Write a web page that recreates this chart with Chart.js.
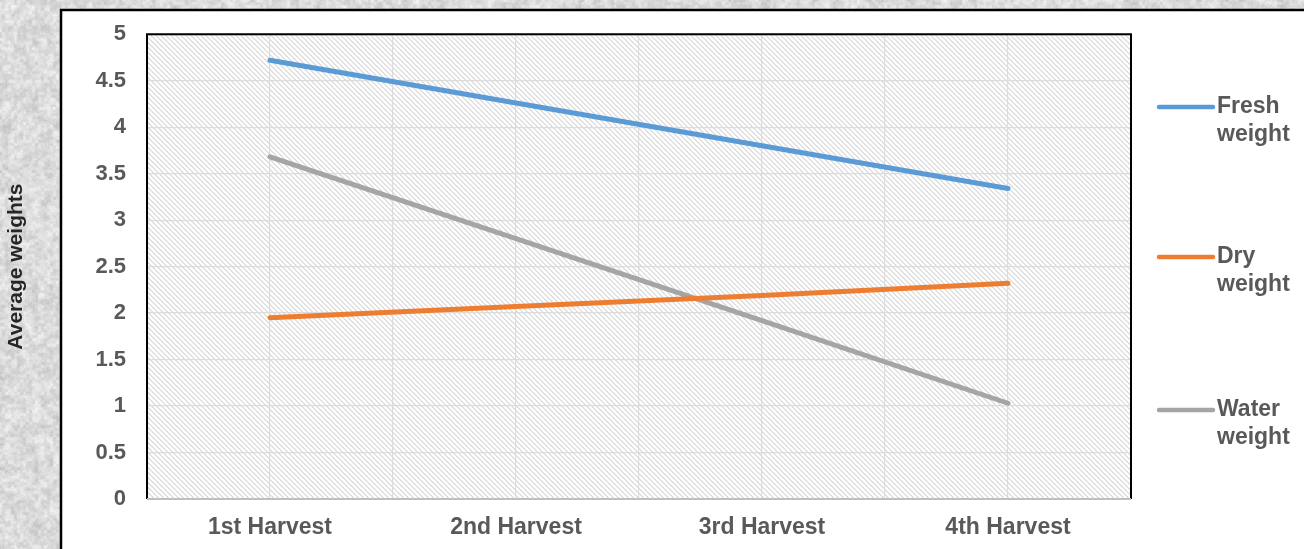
<!DOCTYPE html>
<html>
<head>
<meta charset="utf-8">
<script src="https://cdn.jsdelivr.net/npm/chart.js@4/dist/chart.umd.min.js"></script>
<style>
  html, body { margin: 0; padding: 0; background: #dcdcdc; }
  #wrap { position: relative; width: 1304px; height: 549px; }
</style>
</head>
<body>
<div id="wrap"><canvas id="chart" width="1304" height="549"></canvas></div>
<script>
// Harvest categories and average weights per harvest
const categories = ['1st Harvest', '2nd Harvest', '3rd Harvest', '4th Harvest'];
const freshWeight = [4.72, 4.26, 3.80, 3.34];
const dryWeight = [1.95, 2.07, 2.19, 2.32];
const waterWeight = [3.68, 2.80, 1.92, 1.03];
const seriesNames = [['Fresh', 'weight'], ['Dry', 'weight'], ['Water', 'weight']];
const yTicks = [0, 0.5, 1, 1.5, 2, 2.5, 3, 3.5, 4, 4.5, 5];

const FONT = "'Liberation Sans', Arial, sans-serif";

// Granite-like backdrop behind the chart frame
function makeStoneTexture(w, h) {
  const c = document.createElement('canvas');
  c.width = w; c.height = h;
  const g = c.getContext('2d');
  const img = g.createImageData(w, h);
  const hash = (x, y, s) => {
    let n = (x * 374761393 + y * 668265263 + s * 2147483647) | 0;
    n = (n ^ (n >>> 13)) * 1274126177 | 0;
    n = n ^ (n >>> 16);
    return ((n >>> 0) % 1000) / 1000;
  };
  const smooth = (x, y, cell, s) => {
    const gx = Math.floor(x / cell), gy = Math.floor(y / cell);
    const fx = (x % cell) / cell, fy = (y % cell) / cell;
    const a = hash(gx, gy, s), b = hash(gx + 1, gy, s);
    const cc = hash(gx, gy + 1, s), d = hash(gx + 1, gy + 1, s);
    const ux = fx * fx * (3 - 2 * fx), uy = fy * fy * (3 - 2 * fy);
    return a + (b - a) * ux + (cc - a) * uy + (a - b - cc + d) * ux * uy;
  };
  for (let y = 0; y < h; y++) {
    for (let x = 0; x < w; x++) {
      const v = 0.35 * smooth(x, y, 7, 1) + 0.45 * smooth(x, y, 3, 2) + 0.2 * hash(x, y, 3);
      const val = Math.max(196, Math.min(248, 188 + v * 62));
      const i = (y * w + x) * 4;
      img.data[i] = val; img.data[i + 1] = val; img.data[i + 2] = val; img.data[i + 3] = 255;
    }
  }
  g.putImageData(img, 0, 0);
  return c;
}

// Diagonal hatch fill for the plot area
function makeHatch(ctx) {
  const t = document.createElement('canvas');
  t.width = 5; t.height = 5;
  const g = t.getContext('2d');
  g.fillStyle = '#ffffff';
  g.fillRect(0, 0, 5, 5);
  g.fillStyle = '#e0e0e0';
  for (let i = 0; i < 5; i++) {
    g.fillRect(i, i, 1, 1);
    g.fillRect((i + 1) % 5, i, 1, 1);
  }
  return ctx.createPattern(t, 'repeat');
}

const stone = makeStoneTexture(1304, 549);

const framePlugin = {
  id: 'frame',
  beforeDraw(chart) {
    const ctx = chart.ctx;
    const a = chart.chartArea;
    ctx.save();
    ctx.drawImage(stone, 0, 0);
    ctx.fillStyle = '#ffffff';
    ctx.fillRect(61, 10, chart.width, chart.height);
    ctx.strokeStyle = '#000000';
    ctx.lineWidth = 2.5;
    ctx.strokeRect(61, 10, chart.width + 10, chart.height + 10);
    ctx.fillStyle = makeHatch(ctx);
    ctx.fillRect(a.left, a.top, a.right - a.left, a.bottom - a.top);
    ctx.restore();
  },
  beforeDatasetsDraw(chart) {
    const ctx = chart.ctx;
    const a = chart.chartArea;
    ctx.save();
    ctx.strokeStyle = '#000000';
    ctx.lineWidth = 2;
    ctx.beginPath();
    ctx.moveTo(a.left, a.bottom);
    ctx.lineTo(a.left, a.top);
    ctx.lineTo(a.right, a.top);
    ctx.lineTo(a.right, a.bottom);
    ctx.stroke();
    ctx.strokeStyle = '#bfbfbf';
    ctx.beginPath();
    ctx.moveTo(a.left, a.bottom);
    ctx.lineTo(a.right, a.bottom);
    ctx.stroke();
    ctx.restore();
  }
};

// Legend drawn to the right of the plot, one entry per series
const sideLegend = {
  id: 'sideLegend',
  afterDraw(chart) {
    const ctx = chart.ctx;
    const a = chart.chartArea;
    const rowsY = [107, 257, 410];
    ctx.save();
    chart.data.datasets.forEach((ds, i) => {
      const y = rowsY[i];
      ctx.strokeStyle = ds.borderColor;
      ctx.lineWidth = 4.5;
      ctx.lineCap = 'round';
      ctx.beginPath();
      ctx.moveTo(a.right + 28, y);
      ctx.lineTo(a.right + 82, y);
      ctx.stroke();
      ctx.fillStyle = '#595959';
      ctx.font = 'bold 23px ' + FONT;
      ctx.textBaseline = 'middle';
      ctx.textAlign = 'left';
      ds.label.forEach((line, k) => ctx.fillText(line, a.right + 86, y + k * 28));
    });
    ctx.restore();
  }
};

const toPoints = arr => arr.map((v, i) => ({ x: i, y: v }));

new Chart(document.getElementById('chart'), {
  type: 'line',
  data: {
    datasets: [
      { label: seriesNames[0], data: toPoints(freshWeight), borderColor: '#5b9bd5' },
      { label: seriesNames[1], data: toPoints(dryWeight), borderColor: '#ed7d31' },
      { label: seriesNames[2], data: toPoints(waterWeight), borderColor: '#a5a5a5' }
    ]
  },
  options: {
    responsive: false,
    animation: false,
    layout: { padding: { top: 33, right: 173, left: 0, bottom: 0 } },
    elements: {
      line: { borderWidth: 5, borderCapStyle: 'round', tension: 0 },
      point: { radius: 0, hoverRadius: 0 }
    },
    plugins: { legend: { display: false }, tooltip: { enabled: false } },
    scales: {
      x: {
        type: 'linear',
        min: -0.5,
        max: 3.5,
        afterFit(s) { s.height = 50; },
        afterBuildTicks(s) {
          const t = [];
          for (let v = -0.5; v <= 3.5001; v += 0.5) t.push({ value: v });
          s.ticks = t;
        },
        grid: { color: '#dcdcdc', lineWidth: 1.2, drawTicks: false },
        border: { display: false },
        ticks: {
          autoSkip: false,
          maxRotation: 0,
          padding: 15,
          color: '#595959',
          font: { family: FONT, size: 23, weight: 'bold' },
          callback: v => Number.isInteger(v) ? categories[v] : ''
        }
      },
      y: {
        min: 0,
        max: 5,
        afterFit(s) { s.width = 147; },
        afterBuildTicks(s) { s.ticks = yTicks.map(v => ({ value: v })); },
        grid: { color: '#dcdcdc', lineWidth: 1.2, drawTicks: false },
        border: { display: false },
        ticks: {
          padding: 21,
          color: '#595959',
          font: { family: FONT, size: 22, weight: 'bold' },
          callback: v => String(v)
        },
        title: {
          display: true,
          text: 'Average weights',
          color: '#262626',
          padding: { top: 4, bottom: 0 },
          font: { family: FONT, size: 21, weight: 'bold' }
        }
      }
    }
  },
  plugins: [framePlugin, sideLegend]
});
</script>
</body>
</html>
